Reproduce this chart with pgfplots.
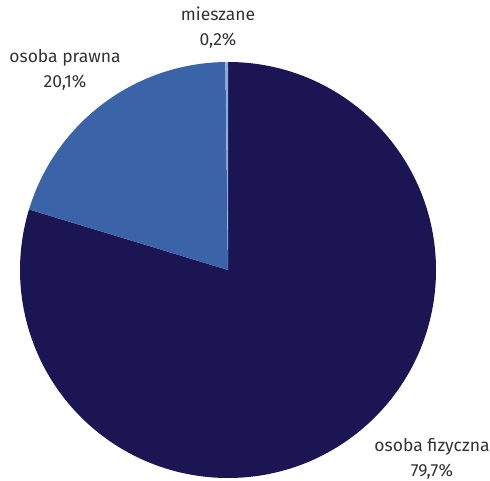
\documentclass[border=0pt]{standalone}
\usepackage{pgfplots}
\usepackage{pgfplotstable}
\pgfplotsset{compat=1.18}
\usepackage{fontspec}
\setmainfont{Fira Sans}
\definecolor{cfiz}{HTML}{1B1553}
\definecolor{cpraw}{HTML}{3A63A8}
\definecolor{cmies}{HTML}{8FAADC}
\pgfplotstableread{
label value
fizyczna 79.7
prawna 20.1
mieszane 0.2
}\piedata
\pgfplotstablegetelem{0}{value}\of\piedata \let\vA\pgfplotsretval
\pgfplotstablegetelem{1}{value}\of\piedata \let\vB\pgfplotsretval
\pgfplotstablegetelem{2}{value}\of\piedata \let\vC\pgfplotsretval
\begin{document}
\begin{tikzpicture}
\begin{axis}[
  scale only axis, width=490pt, height=481pt,
  xmin=-228, xmax=262, ymin=-211, ymax=270,
  hide axis, clip=false,
]
\pgfmathsetmacro{\aA}{90-3.6*\vA}
\pgfmathsetmacro{\aB}{\aA-3.6*\vB}
\pgfmathsetmacro{\aC}{\aB-3.6*\vC}
\fill[cfiz] (axis cs:0,0) -- ++(90:208pt) arc[start angle=90, end angle=\aA, radius=208pt] -- cycle;
\fill[cpraw] (axis cs:0,0) -- ++(\aA:208pt) arc[start angle=\aA, end angle=\aB, radius=208pt] -- cycle;
\fill[cmies] (axis cs:0,0) -- ++(\aB:208pt) arc[start angle=\aB, end angle=\aC, radius=208pt] -- cycle;
\path (axis cs:-228,-211) rectangle (axis cs:262,270);
\node[align=center, font=\fontsize{17.5}{25}\selectfont, text=black!80, inner sep=0pt] at (axis cs:-10,242) {mieszane\\0,2\%};
\node[align=center, font=\fontsize{17.5}{25}\selectfont, text=black!80, inner sep=0pt] at (axis cs:-163,200) {osoba prawna\\20,1\%};
\node[align=center, font=\fontsize{17.5}{25}\selectfont, text=black!80, inner sep=0pt] at (axis cs:204,-189) {osoba fizyczna\\79,7\%};
\end{axis}
\end{tikzpicture}
\end{document}
